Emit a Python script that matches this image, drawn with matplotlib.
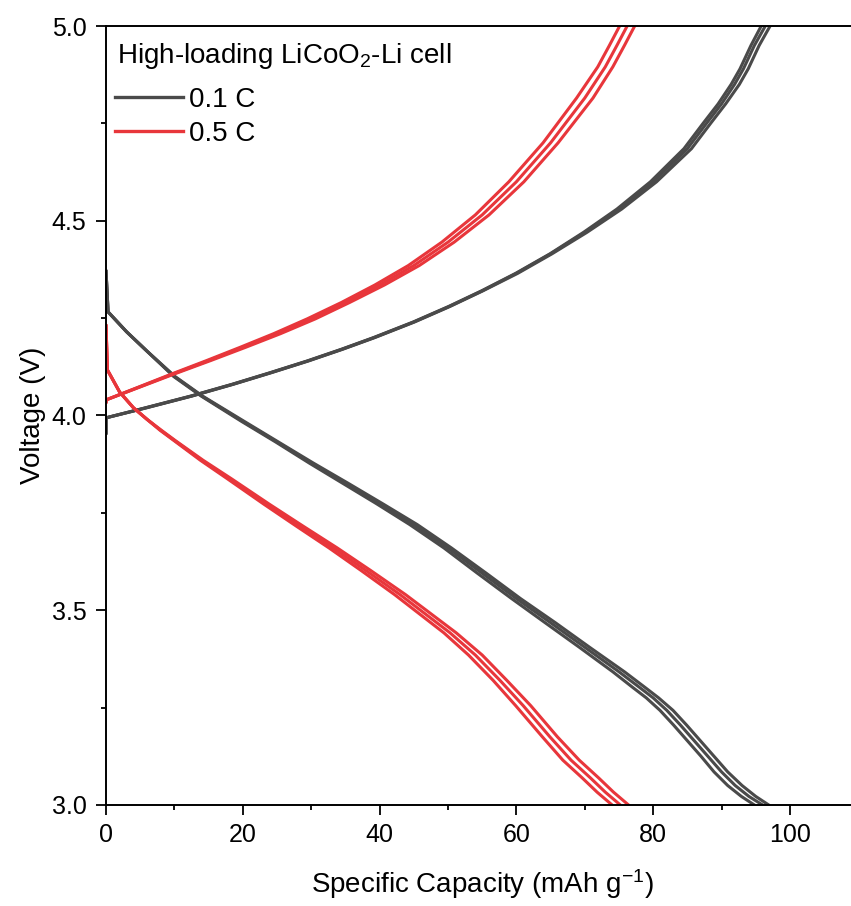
import matplotlib
matplotlib.use("Agg")
import matplotlib.pyplot as plt
from matplotlib.lines import Line2D
from matplotlib.ticker import MultipleLocator, FormatStrFormatter

plt.rcParams["font.family"] = ["Liberation Sans", "DejaVu Sans"]
plt.rcParams["mathtext.default"] = "regular"

# ---- data: capacity (mAh/g) at voltage (V), 3 cycles each ----
# 0.1 C charge
chg01_v = [3.955, 3.994, 4.02, 4.05, 4.08, 4.11, 4.14, 4.17, 4.20, 4.24, 4.28, 4.32,
           4.365, 4.415, 4.47, 4.53, 4.60, 4.685, 4.75, 4.80, 4.85, 4.89, 4.95, 5.0]
chg01_c1 = [0, 0, 5.8, 12.4, 18.4, 24.0, 29.4, 34.4, 39.1, 44.9, 50.1, 54.9,
            59.9, 64.9, 69.8, 74.7, 79.6, 84.5, 87.3, 89.5, 91.4, 92.7, 94.3, 95.8]
chg01_c2 = [0, 0, 5.9, 12.5, 18.5, 24.1, 29.5, 34.5, 39.2, 45.0, 50.2, 55.0,
            60.0, 65.0, 70.0, 75.0, 80.0, 85.0, 87.8, 90.0, 91.9, 93.2, 94.8, 96.4]
chg01_c3 = [0, 0, 6.0, 12.6, 18.6, 24.2, 29.6, 34.6, 39.3, 45.1, 50.3, 55.1,
            60.2, 65.2, 70.3, 75.4, 80.5, 85.6, 88.4, 90.6, 92.6, 93.9, 95.5, 97.1]

# 0.1 C discharge
dis01_v = [4.37, 4.266, 4.215, 4.165, 4.10, 4.05, 3.985, 3.932, 3.878, 3.826, 3.774, 3.72,
           3.66, 3.595, 3.53, 3.468, 3.405, 3.342, 3.302, 3.275, 3.243, 3.205, 3.165,
           3.125, 3.085, 3.05, 3.022, 3.0]
dis01_c1 = [0, 0.3, 3, 6, 9.9, 13.9, 19.8, 24.8, 29.7, 34.6, 39.5, 44.4,
            49.4, 54.3, 59.3, 64.2, 69.2, 74.1, 77.0, 79.0, 81.0, 83.0, 85.0,
            87.0, 88.9, 90.9, 92.9, 94.8]
dis01_c2 = [0, 0.3, 3, 6, 10, 14, 20, 25, 30, 35, 40, 45,
            50, 55, 60, 65, 70, 75, 78, 80, 82, 84, 86,
            88, 90, 92, 94, 96]
dis01_c3 = [0, 0.3, 3, 6, 10.1, 14.1, 20.2, 25.2, 30.3, 35.4, 40.4, 45.5,
            50.5, 55.6, 60.6, 65.7, 70.7, 75.8, 78.8, 80.8, 82.9, 84.9, 86.9,
            88.9, 90.9, 93.0, 95.0, 96.9]

# 0.5 C charge
chg05_v = [4.035, 4.04, 4.074, 4.108, 4.141, 4.175, 4.21, 4.248, 4.29, 4.335, 4.385,
           4.445, 4.515, 4.60, 4.70, 4.815, 4.895, 4.95, 5.0]
chg05_c1 = [0, 0, 4.9, 9.8, 14.7, 19.6, 24.5, 29.4, 34.4, 39.3, 44.2,
            49.1, 54.0, 58.9, 63.9, 68.8, 71.9, 73.6, 75.1]
chg05_c2 = [0, 0, 5.0, 10.0, 15.0, 20.0, 25.0, 30.0, 35.0, 40.0, 45.0,
            50.0, 55.0, 60.0, 65.0, 70.0, 73.0, 74.7, 76.2]
chg05_c3 = [0, 0, 5.1, 10.2, 15.3, 20.4, 25.5, 30.6, 35.6, 40.7, 45.8,
            50.9, 56.0, 61.1, 66.1, 71.2, 74.1, 75.8, 77.3]

# 0.5 C discharge
dis05_v = [4.23, 4.117, 4.06, 4.02, 3.99, 3.962, 3.936, 3.885, 3.838, 3.772, 3.715, 3.66,
           3.602, 3.54, 3.442, 3.385, 3.32, 3.255, 3.175, 3.115, 3.07, 3.033, 3.0]
dis05_c1 = [0, 0.2, 2, 4, 6, 7.9, 9.9, 13.8, 17.7, 23.1, 27.9, 32.6,
            37.3, 42.2, 49.4, 53.0, 56.6, 59.9, 63.8, 66.8, 69.6, 71.8, 74.0]
dis05_c2 = [0, 0.2, 2, 4, 6, 8, 10, 14, 18, 23.5, 28.4, 33.2,
            38, 43, 50.3, 54, 57.6, 61, 64.9, 68, 70.8, 73, 75.2]
dis05_c3 = [0, 0.2, 2, 4, 6, 8.1, 10.1, 14.2, 18.3, 23.9, 28.9, 33.8,
            38.7, 43.8, 51.2, 55.0, 58.6, 62.1, 66.0, 69.2, 72.0, 74.2, 76.4]

rates = ["0.1 C", "0.5 C"]
colors = {"0.1 C": "#4a4a4a", "0.5 C": "#e8363b"}

curves = [
    ("0.1 C", chg01_v, [chg01_c1, chg01_c2, chg01_c3]),
    ("0.1 C", dis01_v, [dis01_c1, dis01_c2, dis01_c3]),
    ("0.5 C", chg05_v, [chg05_c1, chg05_c2, chg05_c3]),
    ("0.5 C", dis05_v, [dis05_c1, dis05_c2, dis05_c3]),
]

fig = plt.figure(figsize=(8.51, 9.06), dpi=100)
ax = fig.add_axes([0.1246, 0.1115, 0.884, 0.8598])

for rate, volts, cycles in curves:
    for cap in cycles:
        ax.plot(cap, volts, color=colors[rate], lw=2.2, solid_joinstyle="round")

ax.set_xlim(0, 110)
ax.set_ylim(3.0, 5.0)
ax.xaxis.set_major_locator(MultipleLocator(20))
ax.xaxis.set_minor_locator(MultipleLocator(10))
ax.yaxis.set_major_locator(MultipleLocator(0.5))
ax.yaxis.set_minor_locator(MultipleLocator(0.25))
ax.yaxis.set_major_formatter(FormatStrFormatter("%.1f"))

for side in ["left", "bottom", "top"]:
    ax.spines[side].set_linewidth(1.4)
ax.spines["right"].set_visible(False)
ax.tick_params(which="both", direction="out", top=False, right=False, width=1.3)
ax.tick_params(which="major", length=7, labelsize=18)
ax.tick_params(axis="x", which="major", pad=6)
ax.tick_params(axis="y", which="major", pad=7)
ax.tick_params(which="minor", length=3.5)

ax.set_xlabel("Specific Capacity (mAh g$^{-1}$)", fontsize=20)
ax.set_ylabel("Voltage (V)", fontsize=20)
ax.xaxis.set_label_coords(0.5, -0.08)
ax.yaxis.set_label_coords(-0.08, 0.5)

ax.text(0.0146, 0.9615, "High-loading LiCoO$_2$-Li cell", transform=ax.transAxes,
        fontsize=20, ha="left", va="center")
handles = [Line2D([], [], color=colors[r], lw=2.4) for r in rates]
ax.legend(handles, rates, loc="upper left", bbox_to_anchor=(0.012, 0.922),
          frameon=False, fontsize=20, handlelength=2.45, handletextpad=0.2,
          labelspacing=0.29, borderpad=0, borderaxespad=0)

fig.savefig("out.png", dpi=100)
